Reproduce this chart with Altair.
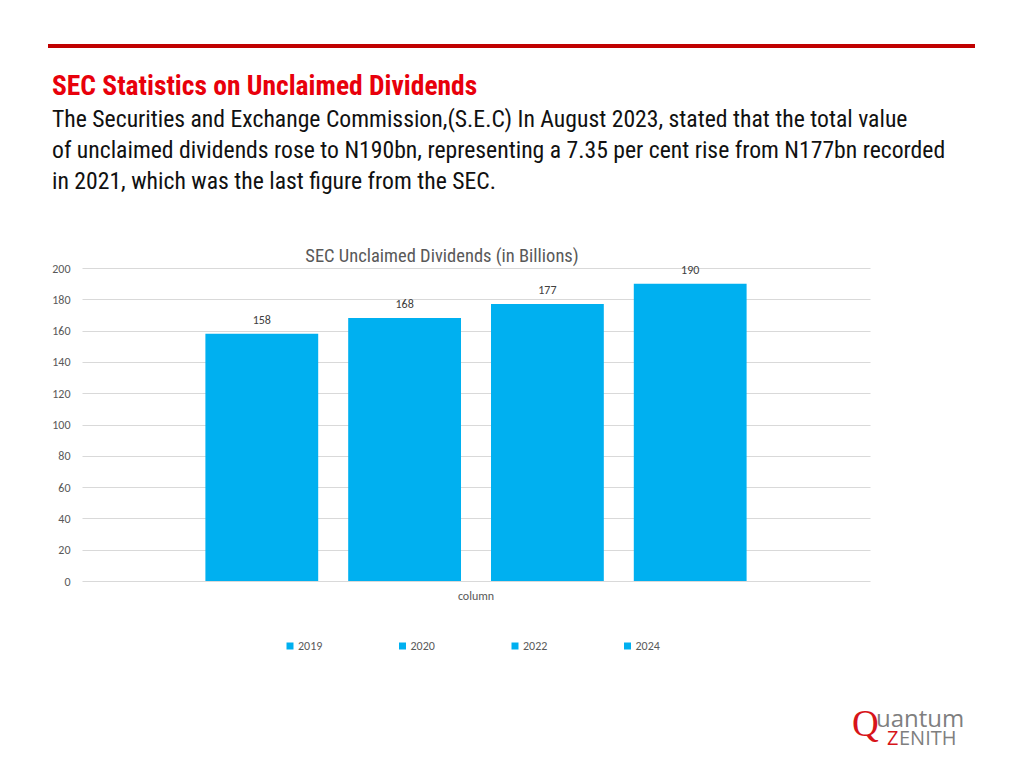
import altair as alt
import pandas as pd

# ---- data ----
years = ["2019", "2020", "2022", "2024"]
values = [158, 168, 177, 190]
category = "column"
y_ticks = [0, 20, 40, 60, 80, 100, 120, 140, 160, 180, 200]

chart_title = "SEC Unclaimed Dividends (in Billions)"
heading = "SEC Statistics on Unclaimed Dividends"
body_lines = [
    "The Securities and Exchange Commission,(S.E.C) In August 2023, stated that the total value",
    "of unclaimed dividends rose to N190bn, representing a 7.35 per cent rise from N177bn recorded",
    "in 2021, which was the last figure from the SEC.",
]

df = pd.DataFrame({"cat": [category] * len(years), "year": years, "value": values})

NARROW = "'Arial Narrow', 'Roboto Condensed', 'Liberation Sans Narrow', sans-serif"
CAL = "Carlito, Calibri, Lato, sans-serif"
BLUE = "#00B0F0"
W, H = 788, 313

y_enc = alt.Y(
    "value:Q",
    title=None,
    scale=alt.Scale(domain=[0, 200], nice=False),
    axis=alt.Axis(values=y_ticks, tickCount=len(y_ticks), ticks=False, domain=False,
                  gridColor="#d9d9d9", labelPadding=12, labelFontSize=12,
                  labelColor="#595959", labelFont=CAL, labelOverlap=False),
)
x_enc = alt.X(
    "cat:N",
    title=None,
    scale=alt.Scale(paddingInner=0, paddingOuter=0.228),
    axis=alt.Axis(labelAngle=0, ticks=False, domain=False, labelPadding=9,
                  labelFontSize=12, labelColor="#595959", labelFont=CAL),
)
xo_enc = alt.XOffset("year:N", scale=alt.Scale(paddingInner=0.21, paddingOuter=0))

base = alt.Chart(df)

bars = base.mark_bar().encode(
    x=x_enc,
    xOffset=xo_enc,
    y=y_enc,
    color=alt.Color(
        "year:N",
        scale=alt.Scale(domain=years, range=[BLUE] * len(years)),
        legend=alt.Legend(
            orient="none", legendX=202, legendY=372, direction="horizontal",
            title=None, symbolType="square", symbolSize=49, symbolStrokeWidth=0,
            labelFontSize=12, labelColor="#595959", labelFont=CAL,
            columnPadding=73.5, labelOffset=2,
        ),
    ),
)

labels = base.mark_text(baseline="middle", dy=-14, fontSize=12, color="#404040", font=CAL).encode(
    x=x_enc, xOffset=xo_enc, y=y_enc, text="value:Q"
)


def txt(s, x, y, size, color, weight="normal", font=NARROW, align="left"):
    return alt.Chart(pd.DataFrame({"t": [s]})).mark_text(
        align=align, baseline="alphabetic", fontSize=size, color=color,
        fontWeight=weight, font=font
    ).encode(text="t:N", x=alt.value(x), y=alt.value(y))


rule = alt.Chart(pd.DataFrame({"a": [0]})).mark_rule(color="#C00000", strokeWidth=4).encode(
    x=alt.value(-34), x2=alt.value(893), y=alt.value(-222)
)

texts = [
    txt(heading, -30, -173, 27.5, "#E8000B", weight="bold"),
    txt(body_lines[0], -30, -141, 23.7, "#111111"),
    txt(body_lines[1], -30, -110, 23.7, "#111111"),
    txt(body_lines[2], -30, -79, 23.7, "#111111"),
    txt(chart_title, 360, -6, 18.5, "#595959", align="center"),
    # logo
    txt("Q", 770, 468, 37, "#D7141A", font="'Liberation Serif', serif"),
    txt("uantum", 794, 459, 24, "#7f7f7f", font="'Open Sans', sans-serif"),
    txt("Z", 805, 477, 20, "#D7141A", font="'Open Sans', sans-serif"),
    txt("ENITH", 817, 477, 20, "#7f7f7f", font="'Open Sans', sans-serif"),
]

chart = alt.layer(bars, labels, rule, *texts).properties(
    width=W,
    height=H,
    padding={"left": 74, "top": 260, "right": 136, "bottom": 172},
    autosize=alt.AutoSizeParams(type="none"),
).configure_view(strokeWidth=0)

chart.save("out.html", embed_options={"renderer": "svg", "actions": False})
